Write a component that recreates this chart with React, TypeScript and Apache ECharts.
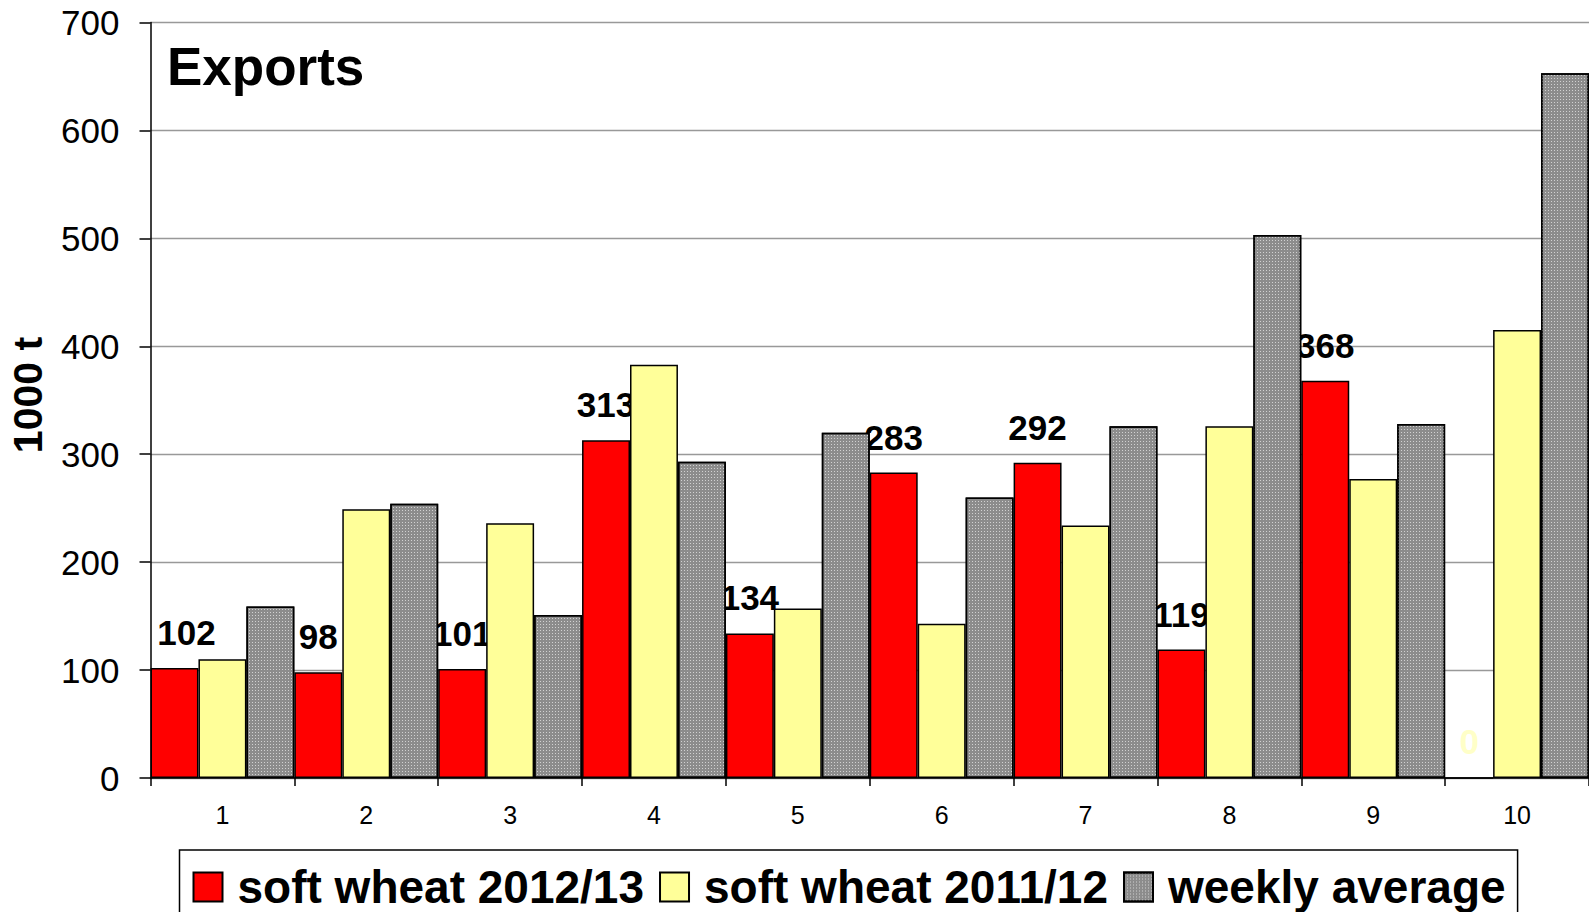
import React, { useEffect, useRef } from "react";
import * as echarts from "echarts";

const weeks = ["1", "2", "3", "4", "5", "6", "7", "8", "9", "10"];
const wheat2012 = [102, 98, 101, 313, 134, 283, 292, 119, 368, 0];
const wheat2011 = [110, 249, 236, 383, 157, 143, 234, 326, 277, 415];
const weeklyAvg = [159, 254, 151, 293, 320, 260, 326, 503, 328, 653];
const yTicks = { min: 0, max: 700, interval: 100 };

const FONT = "'Liberation Sans', Arial, Helvetica, sans-serif";

export default function App() {
  const ref = useRef<HTMLDivElement>(null);
  useEffect(() => {
    if (!ref.current) return;
    const chart = echarts.init(ref.current, undefined, { renderer: "svg" });
    const border = { borderColor: "#000", borderWidth: 1.5 };
    chart.setOption({
      animation: false,
      backgroundColor: "#fff",
      textStyle: { fontFamily: FONT },
      title: {
        text: "Exports",
        left: 167,
        top: 40,
        padding: 0,
        textStyle: { fontSize: 53, fontWeight: "bold", color: "#000", fontFamily: FONT, lineHeight: 53 },
      },
      graphic: [
        {
          type: "text",
          x: 28,
          y: 395,
          rotation: Math.PI / 2,
          style: {
            text: "1000 t",
            font: "bold 41px " + FONT,
            fill: "#000",
            textAlign: "center",
            textVerticalAlign: "middle",
          },
        },
      ],
      legend: {
        left: 179.5,
        top: 850,
        orient: "horizontal",
        icon: "rect",
        itemWidth: 29,
        itemHeight: 29,
        itemGap: 15,
        padding: [14, 12, 30, 13],
        borderColor: "#000",
        borderWidth: 1.5,
        textStyle: { fontSize: 46, fontWeight: "bold", color: "#000", fontFamily: FONT, padding: [0, 0, 0, 10] },
        data: ["soft wheat 2012/13", "soft wheat 2011/12", "weekly average"],
      },
      grid: { left: 150.5, top: 22.5, width: 1443, height: 755.5, containLabel: false },
      xAxis: {
        type: "category",
        data: weeks,
        axisLine: { lineStyle: { color: "#000", width: 1.5 } },
        axisTick: { show: true, length: 8, interval: 0, alignWithLabel: false, lineStyle: { color: "#000", width: 1.5 } },
        axisLabel: { fontSize: 25, color: "#000", margin: 24, fontFamily: FONT, interval: 0 },
      },
      yAxis: {
        type: "value",
        min: yTicks.min,
        max: yTicks.max,
        interval: yTicks.interval,
        axisLine: { show: true, lineStyle: { color: "#000", width: 1.5 } },
        axisTick: { show: true, length: 11, lineStyle: { color: "#000", width: 1.5 } },
        axisLabel: { fontSize: 35, color: "#000", margin: 31, fontFamily: FONT },
        splitLine: { show: true, lineStyle: { color: "#999", width: 1.3 } },
      },
      series: [
        {
          name: "soft wheat 2012/13",
          type: "bar",
          z: 2,
          barGap: "0%",
          barCategoryGap: "0%",
          itemStyle: { color: "#ff0000", ...border },
          label: {
            show: true,
            position: "top",
            distance: 18,
            fontSize: 35,
            fontWeight: "bold",
            color: "#000",
            fontFamily: FONT,
          },
          data: wheat2012.map((v, i) =>
            v === 0
              ? { value: v, label: { color: "#ffffc8" } }
              : i === 0
              ? { value: v, label: { offset: [12, 0] } }
              : v
          ),
        },
        {
          name: "soft wheat 2011/12",
          type: "bar",
          z: 3,
          barGap: "0%",
          barCategoryGap: "0%",
          itemStyle: { color: "#ffff99", ...border },
          data: wheat2011,
        },
        {
          name: "weekly average",
          type: "bar",
          z: 3,
          barGap: "0%",
          barCategoryGap: "0%",
          itemStyle: {
            color: "#8c8c8c",
            ...border,
            decal: {
              symbol: "rect",
              symbolSize: 1,
              dashArrayX: [1, 2],
              dashArrayY: [1, 2],
              color: "rgba(255,255,255,0.6)",
            },
          },
          data: weeklyAvg,
        },
      ],
    });
    return () => chart.dispose();
  }, []);
  return (
    <div style={{ position: "absolute", left: 0, top: 0, width: 1589, height: 912, overflow: "hidden" }}>
      <div ref={ref} style={{ width: 1589, height: 912 }} />
    </div>
  );
}
